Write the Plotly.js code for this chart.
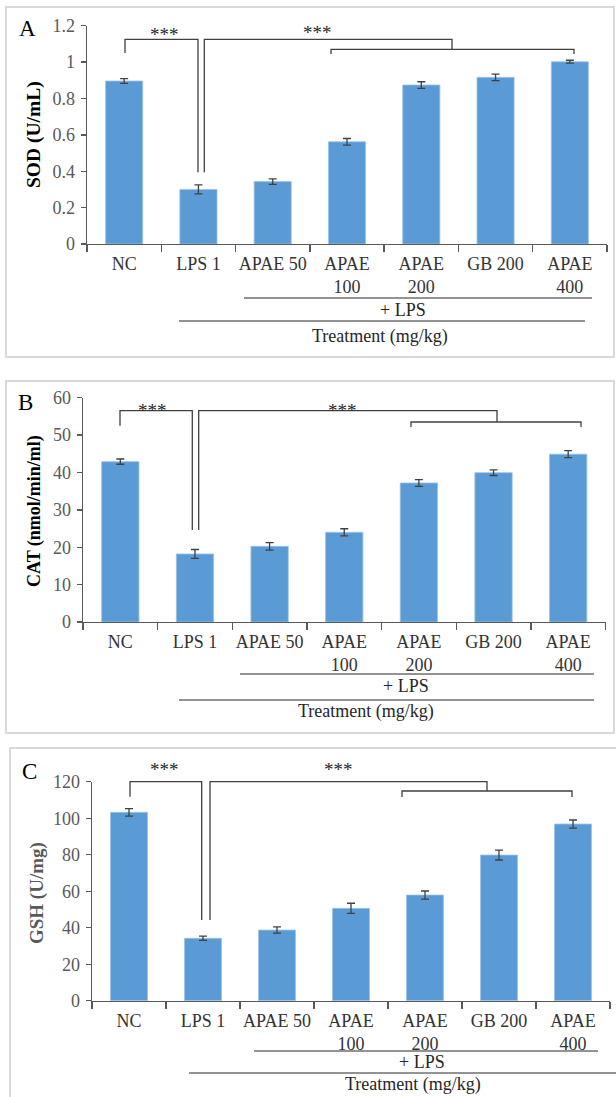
<!DOCTYPE html>
<html>
<head>
<meta charset="utf-8">
<script src="https://cdn.plot.ly/plotly-3.0.1.min.js"></script>
<style>html,body{margin:0;padding:0;background:#fff;}#chart{width:616px;height:1097px;}</style>
</head>
<body>
<div id="chart"></div>
<script>
const categories = ['NC','LPS 1','APAE 50','APAE<br>100','APAE<br>200','GB 200','APAE<br>400'];
const sodValues = [0.896, 0.300, 0.343, 0.562, 0.874, 0.916, 1.002];
const sodErrors = [0.013, 0.025, 0.015, 0.018, 0.018, 0.018, 0.008];
const catValues = [42.9, 18.2, 20.25, 24.0, 37.2, 39.95, 44.9];
const catErrors = [0.7, 1.2, 1.0, 0.94, 0.9, 0.76, 0.94];
const gshValues = [103.2, 34.2, 38.7, 50.6, 57.9, 79.8, 96.8];
const gshErrors = [2.1, 1.2, 1.7, 2.8, 2.2, 2.7, 2.2];
const panelLetters = ['A','B','C'];
const yTitles = ['SOD (U/mL)','CAT (nmol/min/ml)','GSH (U/mg)'];
const stars = '***';
const lpsLabel = '+ LPS';
const treatmentLabel = 'Treatment (mg/kg)';

const W = 616, H = 1097;
const px = x => x / W;
const py = y => 1 - y / H;
const SERIF = 'Liberation Serif, Times New Roman, serif';
const BLUE = '#5B9BD5';
const LINE = '#404040';

function barTrace(vals, errs, xa, ya) {
  return {
    type: 'bar', x: categories, y: vals, xaxis: xa, yaxis: ya, width: 0.5,
    marker: {color: BLUE, line: {color: '#9DC3E6', width: 0.8}},
    error_y: {type: 'data', array: errs, visible: true, color: LINE, thickness: 1.3, width: 4},
    hoverinfo: 'none'
  };
}

const data = [
  barTrace(sodValues, sodErrors, 'x', 'y'),
  barTrace(catValues, catErrors, 'x2', 'y2'),
  barTrace(gshValues, gshErrors, 'x3', 'y3')
];

function xAxis(x0, x1, anchor) {
  return {
    domain: [px(x0), px(x1)], anchor: anchor, type: 'category', categoryorder: 'array', categoryarray: categories,
    tickson: 'boundaries', ticks: 'outside', ticklen: 7, tickcolor: '#595959', tickwidth: 1.3,
    showline: true, linecolor: '#595959', linewidth: 1.3, showgrid: false, zeroline: false, tickangle: 0,
    tickfont: {family: SERIF, size: 18, color: '#333333'}, ticklabelstandoff: 3, fixedrange: true
  };
}
function yAxis(yTop, yBot, range, dtick, anchor) {
  return {
    domain: [py(yBot), py(yTop)], anchor: anchor, range: range, dtick: dtick, tick0: 0,
    ticks: 'outside', ticklen: 5, tickcolor: '#595959', tickwidth: 1.3,
    showline: true, linecolor: '#595959', linewidth: 1.3, showgrid: false, zeroline: false,
    tickfont: {family: SERIF, size: 18, color: '#595959'}, ticklabelstandoff: 2, fixedrange: true
  };
}

const shapes = [];
function path(points, color, width) {
  let d = points.map((p, i) => (i ? 'L' : 'M') + px(p[0]) + ',' + py(p[1])).join(' ');
  shapes.push({type: 'path', xref: 'paper', yref: 'paper', path: d, line: {color: color || LINE, width: width || 1.3}});
}
function rect(x0, y0, x1, y1) {
  shapes.push({type: 'rect', xref: 'paper', yref: 'paper', x0: px(x0), x1: px(x1), y0: py(y1), y1: py(y0),
    line: {color: '#d9d9d9', width: 2}, fillcolor: 'rgba(0,0,0,0)', layer: 'below'});
}
const annotations = [];
function txt(text, x, y, opts) {
  annotations.push(Object.assign({
    text: text, xref: 'paper', yref: 'paper', x: px(x), y: py(y), showarrow: false,
    xanchor: 'center', yanchor: 'middle', font: {family: SERIF, size: 18, color: '#262626'}
  }, opts || {}));
}
const starFont = {family: SERIF, size: 19, color: '#262626'};
const letterFont = {family: SERIF, size: 23, color: '#000'};

// Panel A
rect(6, 7, 614, 357);
path([[125,53],[125,39.3],[198,39.3],[198,172.3]]);
path([[204.3,172.3],[204.3,39.3],[452,39.3],[452,49.3]]);
path([[331,54],[331,49.3],[574,49.3],[574,54]]);
path([[244,298],[592,298]], '#262626', 1);
path([[179,321],[585,321]], '#262626', 1);
txt(panelLetters[0], 27, 28, {font: letterFont});
txt(stars, 164, 35, {font: starFont});
txt(stars, 317, 32, {font: starFont});
txt(lpsLabel, 403, 310);
txt(treatmentLabel, 380, 336);
txt(yTitles[0], 34, 135, {textangle: -90, font: {family: SERIF, size: 19.5, color: '#000', weight: 'bold'}});

// Panel B
rect(6, 381, 614, 733);
path([[120,425.7],[120,410.7],[192.3,410.7],[192.3,530]]);
path([[198.7,530],[198.7,410.7],[497,410.7],[497,422]]);
path([[411,427],[411,422],[581,422],[581,427]]);
path([[240,674],[594,674]], '#262626', 1);
path([[179,700],[594,700]], '#262626', 1);
txt(panelLetters[1], 25, 402, {font: letterFont});
txt(stars, 152, 410, {font: starFont});
txt(stars, 342, 411, {font: starFont});
txt(lpsLabel, 406, 686);
txt(treatmentLabel, 366, 711);
txt(yTitles[1], 35, 511, {textangle: -90, font: {family: SERIF, size: 18, color: '#000', weight: 'bold'}});

// Panel C
rect(10, 748, 622, 1105);
path([[130,796.7],[130,781.7],[201.7,781.7],[201.7,920]]);
path([[210,920],[210,781.7],[487,781.7],[487,791]]);
path([[402,797],[402,791],[572,791],[572,797]]);
path([[254,1051],[598,1051]], '#262626', 1);
path([[189,1073],[616,1073]], '#262626', 1);
txt(panelLetters[2], 29, 772, {font: letterFont});
txt(stars, 164, 769, {font: starFont});
txt(stars, 338, 769, {font: starFont});
txt(lpsLabel, 422, 1062);
txt(treatmentLabel, 413, 1084);
txt(yTitles[2], 37, 893, {textangle: -90, font: {family: SERIF, size: 19, color: '#595959', weight: 'bold'}});

const layout = {
  width: W, height: H, margin: {l: 0, r: 0, t: 0, b: 0},
  paper_bgcolor: '#ffffff', plot_bgcolor: '#ffffff', showlegend: false,
  xaxis: xAxis(87, 607, 'y'),
  yaxis: yAxis(25.7, 244, [0, 1.2], 0.2, 'x'),
  xaxis2: xAxis(83, 605.5, 'y2'),
  yaxis2: yAxis(397.7, 622, [0, 60], 10, 'x2'),
  xaxis3: xAxis(92, 610, 'y3'),
  yaxis3: yAxis(781.7, 1000.7, [0, 120], 20, 'x3'),
  shapes: shapes, annotations: annotations
};

Plotly.newPlot('chart', data, layout, {staticPlot: true, displayModeBar: false});
</script>
</body>
</html>
